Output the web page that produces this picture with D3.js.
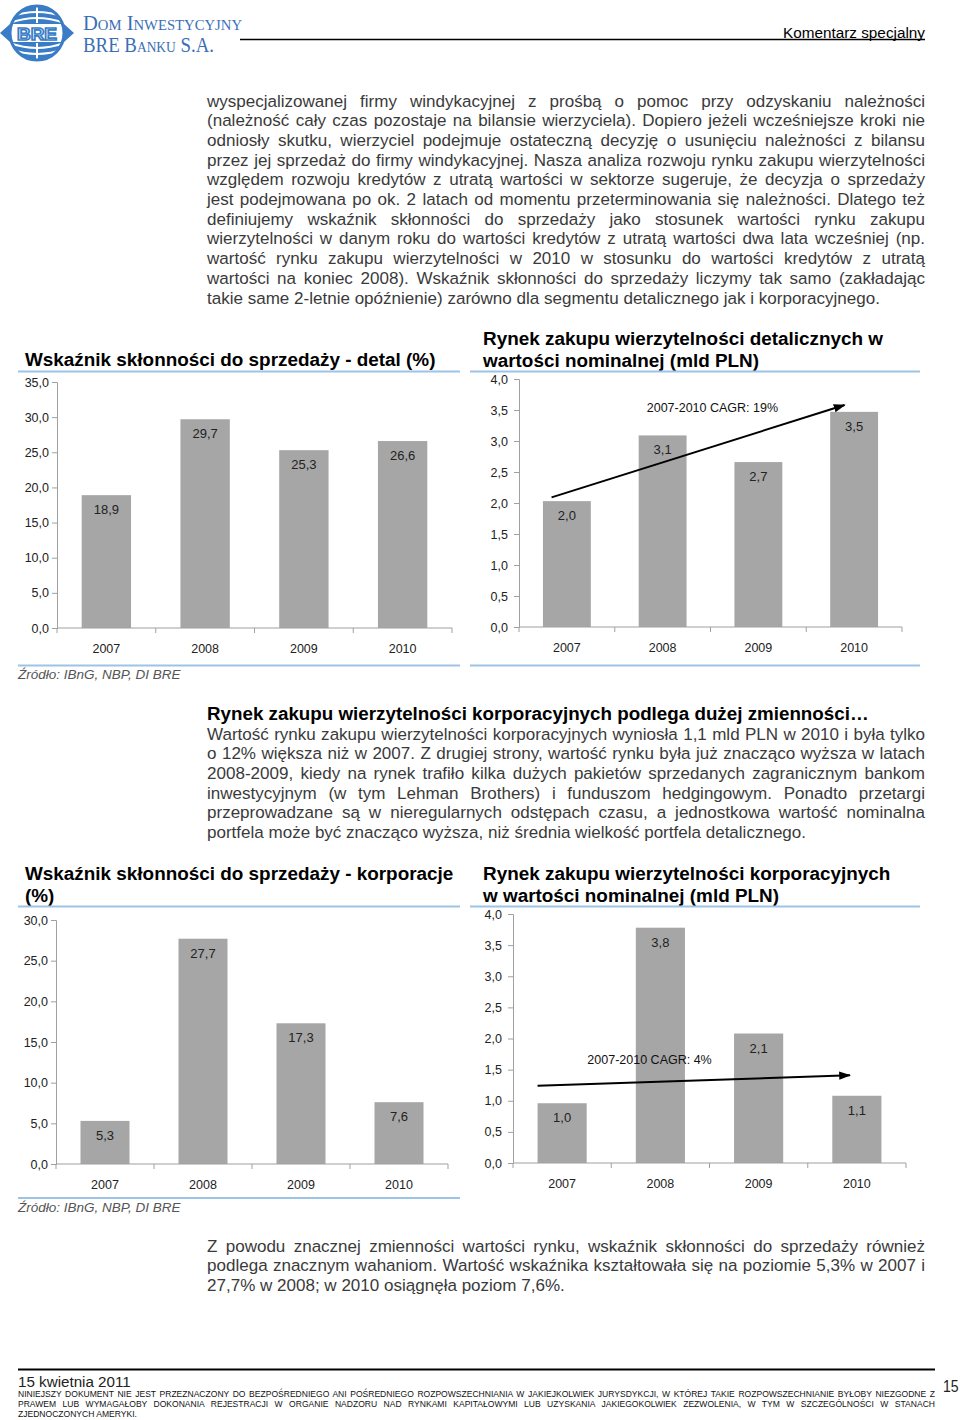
<!DOCTYPE html>
<html>
<head>
<meta charset="utf-8">
<script src="https://cdn.jsdelivr.net/npm/d3@7"></script>
<style>
  body { margin: 0; background: #fff; }
  svg { display: block; }
</style>
</head>
<body>
<div id="page"></div>
<script>
// ---- chart data ----
const years = ["2007", "2008", "2009", "2010"];
const detalRatio = [18.9, 29.7, 25.3, 26.6];
const detalMarket = [2.03, 3.09, 2.66, 3.47];
const corpRatio = [5.3, 27.7, 17.3, 7.6];
const corpMarket = [0.96, 3.78, 2.08, 1.08];

const detalRatioTicks = [0, 5, 10, 15, 20, 25, 30, 35];
const corpRatioTicks = [0, 5, 10, 15, 20, 25, 30];
const marketTicks = [0, 0.5, 1, 1.5, 2, 2.5, 3, 3.5, 4];

// CAGR arrows, given as [category index, value]
const detalCagr = { label: "2007-2010 CAGR: 19%", from: [-0.16, 2.09], to: [2.9, 3.58], text: [1.52, 3.47] };
const corpCagr = { label: "2007-2010 CAGR: 4%", from: [-0.25, 1.24], to: [2.93, 1.41], text: [0.89, 1.59] };

// ---- page text ----
const para1 = [
  "wyspecjalizowanej firmy windykacyjnej z prośbą o pomoc przy odzyskaniu należności",
  "(należność cały czas pozostaje na bilansie wierzyciela). Dopiero jeżeli wcześniejsze kroki nie",
  "odniosły skutku, wierzyciel podejmuje ostateczną decyzję o usunięciu należności z bilansu",
  "przez jej sprzedaż do firmy windykacyjnej. Nasza analiza rozwoju rynku zakupu wierzytelności",
  "względem rozwoju kredytów z utratą wartości w sektorze sugeruje, że decyzja o sprzedaży",
  "jest podejmowana po ok. 2 latach od momentu przeterminowania się należności. Dlatego też",
  "definiujemy wskaźnik skłonności do sprzedaży jako stosunek wartości rynku zakupu",
  "wierzytelności w danym roku do wartości kredytów z utratą wartości dwa lata wcześniej (np.",
  "wartość rynku zakupu wierzytelności w 2010 w stosunku do wartości kredytów z utratą",
  "wartości na koniec 2008). Wskaźnik skłonności do sprzedaży liczymy tak samo (zakładając",
  "takie same 2-letnie opóźnienie) zarówno dla segmentu detalicznego jak i korporacyjnego."
];
const para2Heading = "Rynek zakupu wierzytelności korporacyjnych podlega dużej zmienności…";
const para2 = [
  "Wartość rynku zakupu wierzytelności korporacyjnych wyniosła 1,1 mld PLN w 2010 i była tylko",
  "o 12% większa niż w 2007. Z drugiej strony, wartość rynku była już znacząco wyższa w latach",
  "2008-2009, kiedy na rynek trafiło kilka dużych pakietów sprzedanych zagranicznym bankom",
  "inwestycyjnym (w tym Lehman Brothers) i funduszom hedgingowym. Ponadto przetargi",
  "przeprowadzane są w nieregularnych odstępach czasu, a jednostkowa wartość nominalna",
  "portfela może być znacząco wyższa, niż średnia wielkość portfela detalicznego."
];
const para3 = [
  "Z powodu znacznej zmienności wartości rynku, wskaźnik skłonności do sprzedaży również",
  "podlega znacznym wahaniom. Wartość wskaźnika kształtowała się na poziomie 5,3% w 2007 i",
  "27,7% w 2008; w 2010 osiągnęła poziom 7,6%."
];
const disclaimer = [
  "NINIEJSZY DOKUMENT NIE JEST PRZEZNACZONY DO BEZPOŚREDNIEGO ANI POŚREDNIEGO ROZPOWSZECHNIANIA W JAKIEJKOLWIEK JURYSDYKCJI, W KTÓREJ TAKIE ROZPOWSZECHNIANIE BYŁOBY NIEZGODNE Z",
  "PRAWEM LUB WYMAGAŁOBY DOKONANIA REJESTRACJI W ORGANIE NADZORU NAD RYNKAMI KAPITAŁOWYMI LUB UZYSKANIA JAKIEGOKOLWIEK ZEZWOLENIA, W TYM W SZCZEGÓLNOŚCI W STANACH",
  "ZJEDNOCZONYCH AMERYKI."
];

const FONT = "'Liberation Sans', Arial, Helvetica, sans-serif";
const BLUE_RULE = "#9dc3e6";
const BAR = "#a6a6a6";
const AXIS = "#a0a0a0";

const pl = d3.formatLocale({ decimal: ",", thousands: " ", grouping: [3], currency: ["", " zł"] });
const fmt1 = pl.format(".1f");

const svg = d3.select("#page")
  .append("svg")
  .attr("width", 960)
  .attr("height", 1420)
  .attr("viewBox", "0 0 960 1420");

svg.append("rect").attr("width", 960).attr("height", 1420).attr("fill", "#fff");

// Justified, narrowed text lines (last line of a block stays ragged)
function textLines(lines, o) {
  lines.forEach((t, i) => {
    const isLast = i === lines.length - 1;
    const el = svg.append("text")
      .attr("transform", `translate(${o.x},${o.y + i * o.lh}) scale(${o.sx},1)`)
      .style("font-family", FONT)
      .style("font-size", o.size + "px")
      .style("font-weight", o.weight || "normal")
      .attr("fill", o.fill || "#333")
      .text(t);
    if (!isLast || o.justifyLast) {
      const natural = el.node().getComputedTextLength();
      const spaces = (t.match(/ /g) || []).length;
      if (spaces) el.style("word-spacing", ((o.width / o.sx - natural) / spaces) + "px");
    }
  });
}

// ---- header ----
const logo = svg.append("g").attr("transform", "translate(37,33)");
const logoBlue = "#3a7cc6";
logo.append("defs").append("clipPath").attr("id", "globe")
  .append("circle").attr("r", 27);
logo.append("path").attr("d", "M-37,0 L-27,-9 L-27,9 Z").attr("fill", logoBlue);
logo.append("path").attr("d", "M37,0 L27,-9 L27,9 Z").attr("fill", logoBlue);
const globe = logo.append("g").attr("clip-path", "url(#globe)");
globe.append("circle").attr("r", 27).attr("fill", logoBlue);
[-21, -15, 15, 21].forEach(yy => {
  const bend = yy < 0 ? -6 : 6;
  globe.append("path")
    .attr("d", `M-30,${yy - bend} Q0,${yy + bend} 30,${yy - bend}`)
    .attr("fill", "none").attr("stroke", "#fff").attr("stroke-width", 2.2);
});
globe.append("rect").attr("x", -30).attr("y", -9).attr("width", 60).attr("height", 18).attr("fill", "#fff");
globe.append("line").attr("x1", 0).attr("x2", 0).attr("y1", -27).attr("y2", -10).attr("stroke", "#fff").attr("stroke-width", 2);
globe.append("line").attr("x1", 0).attr("x2", 0).attr("y1", 10).attr("y2", 27).attr("stroke", "#fff").attr("stroke-width", 2);
logo.append("text").attr("x", 0).attr("y", 6.5).attr("text-anchor", "middle")
  .style("font-family", FONT).style("font-size", "17px").style("font-weight", "bold")
  .attr("fill", "#fff").attr("stroke", logoBlue).attr("stroke-width", 1.6)
  .attr("textLength", 40).attr("lengthAdjust", "spacingAndGlyphs")
  .text("BRE");
logo.append("circle").attr("r", 27).attr("fill", "none").attr("stroke", logoBlue).attr("stroke-width", 3);

svg.append("text").attr("x", 83).attr("y", 29.5)
  .style("font-family", "'Liberation Serif', 'DejaVu Serif', serif")
  .style("font-size", "21px").style("font-variant", "small-caps")
  .attr("fill", "#3a6fb5").attr("textLength", 159).attr("lengthAdjust", "spacingAndGlyphs")
  .text("Dom Inwestycyjny");
svg.append("text").attr("x", 83).attr("y", 51.5)
  .style("font-family", "'Liberation Serif', 'DejaVu Serif', serif")
  .style("font-size", "21px").style("font-variant", "small-caps")
  .attr("fill", "#3a6fb5").attr("textLength", 131).attr("lengthAdjust", "spacingAndGlyphs")
  .text("BRE Banku S.A.");

svg.append("line").attr("x1", 240).attr("x2", 925).attr("y1", 39.5).attr("y2", 39.5)
  .attr("stroke", "#000").attr("stroke-width", 1.4);
svg.append("text").attr("x", 925).attr("y", 37.5).attr("text-anchor", "end")
  .style("font-family", FONT).style("font-size", "15.3px").attr("fill", "#000")
  .text("Komentarz specjalny");

// ---- body text ----
const bodyOpts = { x: 207, lh: 19.7, width: 718, size: 17.3, sx: 0.985, fill: "#3a3a3a" };
textLines(para1, { ...bodyOpts, y: 106.5 });
textLines([para2Heading], { ...bodyOpts, y: 720, weight: "bold", fill: "#000", size: 18.8, sx: 1 });
textLines(para2, { ...bodyOpts, y: 739.5 });
textLines(para3, { ...bodyOpts, y: 1251.5 });

// ---- charts ----
function barChart(c) {
  const g = svg.append("g");

  // title and rules
  c.title.forEach((t, i) => {
    g.append("text").attr("x", c.titleX).attr("y", c.titleY + i * 22)
      .style("font-family", FONT).style("font-size", "18.9px").style("font-weight", "bold")
      .attr("fill", "#000").text(t);
  });
  g.append("line").attr("x1", c.ruleX[0]).attr("x2", c.ruleX[1])
    .attr("y1", c.ruleTop).attr("y2", c.ruleTop)
    .attr("stroke", BLUE_RULE).attr("stroke-width", 2);
  if (c.ruleBottom) {
    g.append("line").attr("x1", c.ruleX[0]).attr("x2", c.ruleX[1])
      .attr("y1", c.ruleBottom).attr("y2", c.ruleBottom)
      .attr("stroke", BLUE_RULE).attr("stroke-width", 2);
  }
  if (c.source) {
    g.append("text").attr("x", 18).attr("y", c.sourceY)
      .style("font-family", FONT).style("font-size", "13.5px").style("font-style", "italic")
      .attr("fill", "#555").text(c.source);
  }

  const x = d3.scaleBand().domain(years).range(c.xRange).paddingInner(0.5).paddingOuter(0.25);
  const y = d3.scaleLinear().domain([0, d3.max(c.ticks)]).range(c.yRange);
  const xi = i => x(years[0]) + x.bandwidth() / 2 + i * x.step();

  // y axis
  const ya = g.append("g").attr("transform", `translate(${c.xRange[0]},0)`)
    .call(d3.axisLeft(y).tickValues(c.ticks).tickFormat(fmt1).tickSizeOuter(0).tickSize(5).tickPadding(c.tickPad));
  ya.select(".domain").attr("stroke", AXIS);
  ya.selectAll(".tick line").attr("stroke", AXIS);
  ya.selectAll(".tick text").style("font-family", FONT).style("font-size", "12.5px").attr("fill", "#222");

  // bars
  g.selectAll("rect.bar").data(c.values).enter().append("rect")
    .attr("class", "bar")
    .attr("x", (d, i) => x(years[i]))
    .attr("width", x.bandwidth())
    .attr("y", d => y(d))
    .attr("height", d => y(0) - y(d))
    .attr("fill", BAR);

  // x axis: baseline with ticks on category boundaries
  const y0 = y(0);
  g.append("line").attr("x1", c.xRange[0]).attr("x2", c.xRange[1])
    .attr("y1", y0).attr("y2", y0).attr("stroke", AXIS).attr("stroke-width", 1.2);
  g.selectAll("line.xtick").data(d3.range(years.length + 1)).enter().append("line")
    .attr("class", "xtick")
    .attr("x1", i => c.xRange[0] + i * x.step()).attr("x2", i => c.xRange[0] + i * x.step())
    .attr("y1", y0).attr("y2", y0 + 5).attr("stroke", AXIS);
  g.selectAll("text.xlab").data(years).enter().append("text")
    .attr("class", "xlab")
    .attr("x", d => x(d) + x.bandwidth() / 2)
    .attr("y", y0 + 24.5)
    .attr("text-anchor", "middle")
    .style("font-family", FONT).style("font-size", "12.5px").attr("fill", "#222")
    .text(d => d);

  // value labels inside bars
  g.selectAll("text.vlab").data(c.values).enter().append("text")
    .attr("class", "vlab")
    .attr("x", (d, i) => x(years[i]) + x.bandwidth() / 2)
    .attr("y", d => y(d) + 19)
    .attr("text-anchor", "middle")
    .style("font-family", FONT).style("font-size", "13px").attr("fill", "#222")
    .text(d => fmt1(d));

  // CAGR arrow
  if (c.cagr) {
    const id = "ah" + c.id;
    g.append("defs").append("marker").attr("id", id)
      .attr("viewBox", "0 0 10 10").attr("refX", 9).attr("refY", 5)
      .attr("markerWidth", 6).attr("markerHeight", 6).attr("orient", "auto")
      .attr("markerUnits", "strokeWidth")
      .append("path").attr("d", "M0,1.5 L10,5 L0,8.5 Z").attr("fill", "#000");
    const line = d3.line().x(p => xi(p[0])).y(p => y(p[1]));
    g.append("path").attr("d", line([c.cagr.from, c.cagr.to]))
      .attr("stroke", "#000").attr("stroke-width", 2).attr("fill", "none")
      .attr("marker-end", `url(#${id})`);
    g.append("text").attr("x", xi(c.cagr.text[0])).attr("y", y(c.cagr.text[1]))
      .attr("text-anchor", "middle")
      .style("font-family", FONT).style("font-size", "12.5px").attr("fill", "#111")
      .text(c.cagr.label);
  }
}

barChart({
  id: 1, title: ["Wskaźnik skłonności do sprzedaży - detal (%)"], titleX: 25, titleY: 366,
  ruleX: [18, 460], ruleTop: 371.5, ruleBottom: 665.5,
  source: "Źródło: IBnG, NBP, DI BRE", sourceY: 679,
  xRange: [57, 452], yRange: [628, 382], ticks: detalRatioTicks, tickPad: 3,
  values: detalRatio
});
barChart({
  id: 2, title: ["Rynek zakupu wierzytelności detalicznych w", "wartości nominalnej (mld PLN)"],
  titleX: 483, titleY: 344.5,
  ruleX: [470, 920], ruleTop: 371.5, ruleBottom: 665.5,
  xRange: [519, 902], yRange: [627, 379], ticks: marketTicks, tickPad: 6,
  values: detalMarket, cagr: detalCagr
});
barChart({
  id: 3, title: ["Wskaźnik skłonności do sprzedaży - korporacje", "(%)"], titleX: 25, titleY: 880,
  ruleX: [18, 460], ruleTop: 906.5, ruleBottom: 1198,
  source: "Źródło: IBnG, NBP, DI BRE", sourceY: 1212,
  xRange: [56, 448], yRange: [1164, 920], ticks: corpRatioTicks, tickPad: 3,
  values: corpRatio
});
barChart({
  id: 4, title: ["Rynek zakupu wierzytelności korporacyjnych", "w wartości nominalnej (mld PLN)"],
  titleX: 483, titleY: 880,
  ruleX: [470, 920], ruleTop: 906.5,
  xRange: [513, 906], yRange: [1163, 914], ticks: marketTicks, tickPad: 6,
  values: corpMarket, cagr: corpCagr
});

// ---- footer ----
svg.append("line").attr("x1", 18).attr("x2", 935).attr("y1", 1369.5).attr("y2", 1369.5)
  .attr("stroke", "#000").attr("stroke-width", 2);
textLines(["15 kwietnia 2011"], { x: 18, y: 1387, lh: 0, width: 0, size: 15.5, sx: 0.98, fill: "#222" });
textLines(disclaimer, { x: 18, y: 1396.5, lh: 10.2, width: 917, size: 9, sx: 0.95, fill: "#111" });
textLines(["15"], { x: 943, y: 1392, lh: 0, width: 0, size: 16, sx: 0.88, fill: "#222" });
</script>
</body>
</html>
